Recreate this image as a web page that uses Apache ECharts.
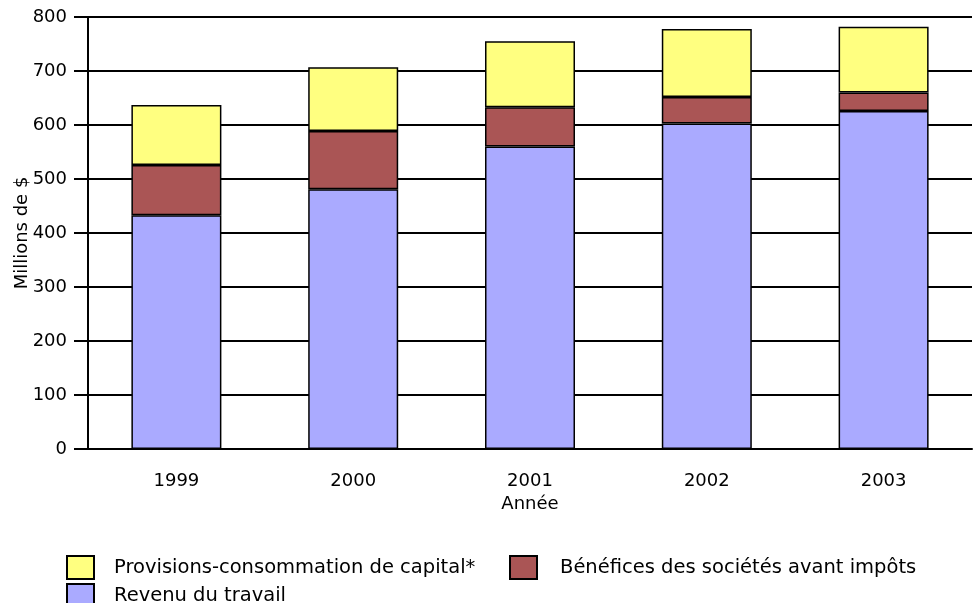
<!DOCTYPE html>
<html>
<head>
<meta charset="utf-8">
<script src="https://cdn.jsdelivr.net/npm/echarts@6/dist/echarts.min.js"></script>
<style>
  html, body { margin: 0; padding: 0; background: #fff; }
  #chart { width: 973px; height: 603px; }
</style>
</head>
<body>
<div id="chart"></div>
<script>
// données (millions de $)
let annees = ['1999', '2000', '2001', '2002', '2003'];
let revenuTravail = [433, 481, 560, 603, 626];
let beneficesSocietes = [93, 108, 73, 49, 34];
let provisionsCapital = [111, 118, 122, 126, 122];
let yTicks = [0, 100, 200, 300, 400, 500, 600, 700, 800];

let nomRevenu = 'Revenu du travail';
let nomBenefices = 'Bénéfices des sociétés avant impôts';
let nomProvisions = 'Provisions-consommation de capital*';

let police = 'DejaVu Sans';

let myChart = echarts.init(document.getElementById('chart'));

function serie(nom, valeurs, couleur) {
    return {
        name: nom,
        type: 'bar',
        stack: 'total',
        barWidth: 90,
        data: valeurs,
        itemStyle: {
            color: couleur,
            borderColor: '#000',
            borderWidth: 1.5
        },
        emphasis: { disabled: true }
    };
}

// une légende par entrée, placée comme sur l'original
function legende(nom, gauche, haut, ecart) {
    return {
        left: gauche,
        top: haut,
        icon: 'rect',
        itemWidth: 27,
        itemHeight: 23,
        data: [nom],
        itemStyle: { borderColor: '#000', borderWidth: 2 },
        textStyle: { fontFamily: police, fontSize: 19.5, color: '#000', padding: [0, 0, 0, ecart] },
        selectedMode: false
    };
}

let option = {
    animation: false,
    color: ['#aaaaff', '#aa5555', '#ffff80'],
    grid: {
        left: 88,
        right: 1,
        top: 17,
        bottom: 154,
        outerBoundsMode: 'none'
    },
    legend: [
        legende(nomProvisions, 61, 550, 15),
        legende(nomRevenu, 61, 578, 15),
        legende(nomBenefices, 504, 550, 18)
    ],
    xAxis: {
        type: 'category',
        data: annees,
        name: 'Année',
        nameLocation: 'middle',
        nameGap: 46,
        nameMoveOverlap: false,
        nameTextStyle: { fontFamily: police, fontSize: 18, color: '#000' },
        axisLine: { lineStyle: { color: '#000', width: 2 } },
        axisTick: { alignWithLabel: true, length: 12, lineStyle: { color: '#000', width: 2 } },
        axisLabel: { fontFamily: police, fontSize: 18, color: '#000', margin: 23 }
    },
    yAxis: {
        type: 'value',
        min: yTicks[0],
        max: yTicks[yTicks.length - 1],
        interval: 100,
        name: 'Millions de $',
        nameLocation: 'middle',
        nameGap: 57,
        nameMoveOverlap: false,
        nameTextStyle: { fontFamily: police, fontSize: 18, color: '#000' },
        axisLine: { show: true, lineStyle: { color: '#000', width: 2 } },
        axisTick: { show: true, length: 14, lineStyle: { color: '#000', width: 2 } },
        axisLabel: { fontFamily: police, fontSize: 18, color: '#000', margin: 21 },
        splitLine: { lineStyle: { color: '#000', width: 2 } }
    },
    series: [
        serie(nomRevenu, revenuTravail, '#aaaaff'),
        serie(nomBenefices, beneficesSocietes, '#aa5555'),
        serie(nomProvisions, provisionsCapital, '#ffff80')
    ]
};

myChart.setOption(option);
</script>
</body>
</html>
